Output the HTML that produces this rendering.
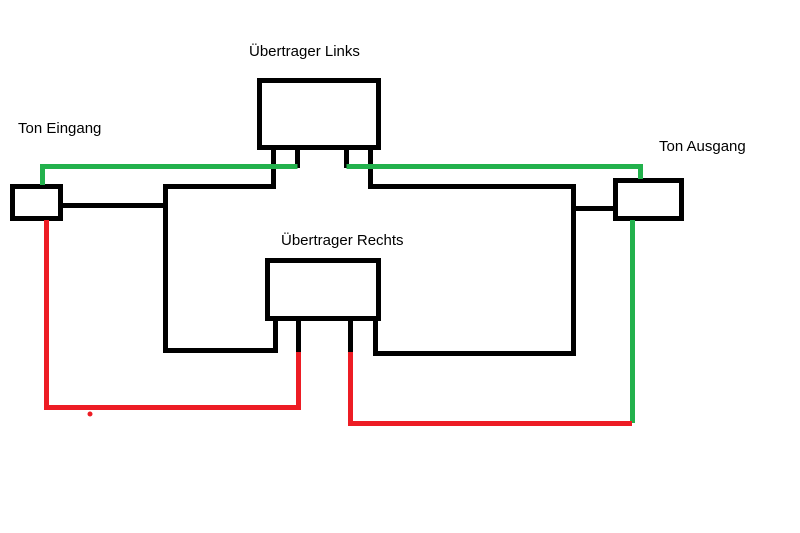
<!DOCTYPE html>
<html><head><style>body{margin:0;background:#fff}svg{display:block}</style></head><body>
<svg width="800" height="533" xmlns="http://www.w3.org/2000/svg" font-family="Liberation Sans, Arial, sans-serif" font-size="15">
<rect width="800" height="533" fill="#fff"/>
<g fill="#000">
<text x="249" y="56">Übertrager Links</text>
<text x="18" y="133">Ton Eingang</text>
<text x="659" y="151">Ton Ausgang</text>
<text x="281" y="245">Übertrager Rechts</text>
</g>
<g fill="none" stroke="#000" stroke-width="5">
<rect x="259.5" y="80.5" width="119" height="67"/>
<rect x="12.5" y="186.5" width="48" height="32"/>
<rect x="615.5" y="180.5" width="66" height="38"/>
<rect x="267.5" y="260.5" width="111" height="58"/>
<path d="M273.5 150V186.5H165.5V350.5H275.5V320"/>
<path d="M297.5 150V168"/>
<path d="M346.5 150V168"/>
<path d="M370.5 150V186.5H573.5V353.5H375.5V320"/>
<path d="M62 205.5H165.5"/>
<path d="M573.5 208.5H615"/>
<path d="M298.5 320V352"/>
<path d="M350.5 320V352"/>
</g>
<g fill="none" stroke="#22b14c" stroke-width="5">
<path d="M42.5 185V166.5H297.5"/>
<path d="M346.5 166.5H640.5V179"/>
<path d="M632.5 220V423"/>
</g>
<g fill="none" stroke="#ed1c24" stroke-width="5">
<path d="M46.5 220V407.5H298.5V352"/>
<path d="M350.5 352V423.5H632"/>
</g>
<circle cx="90" cy="414" r="2.5" fill="#ed1c24"/>
</svg>
</body></html>
